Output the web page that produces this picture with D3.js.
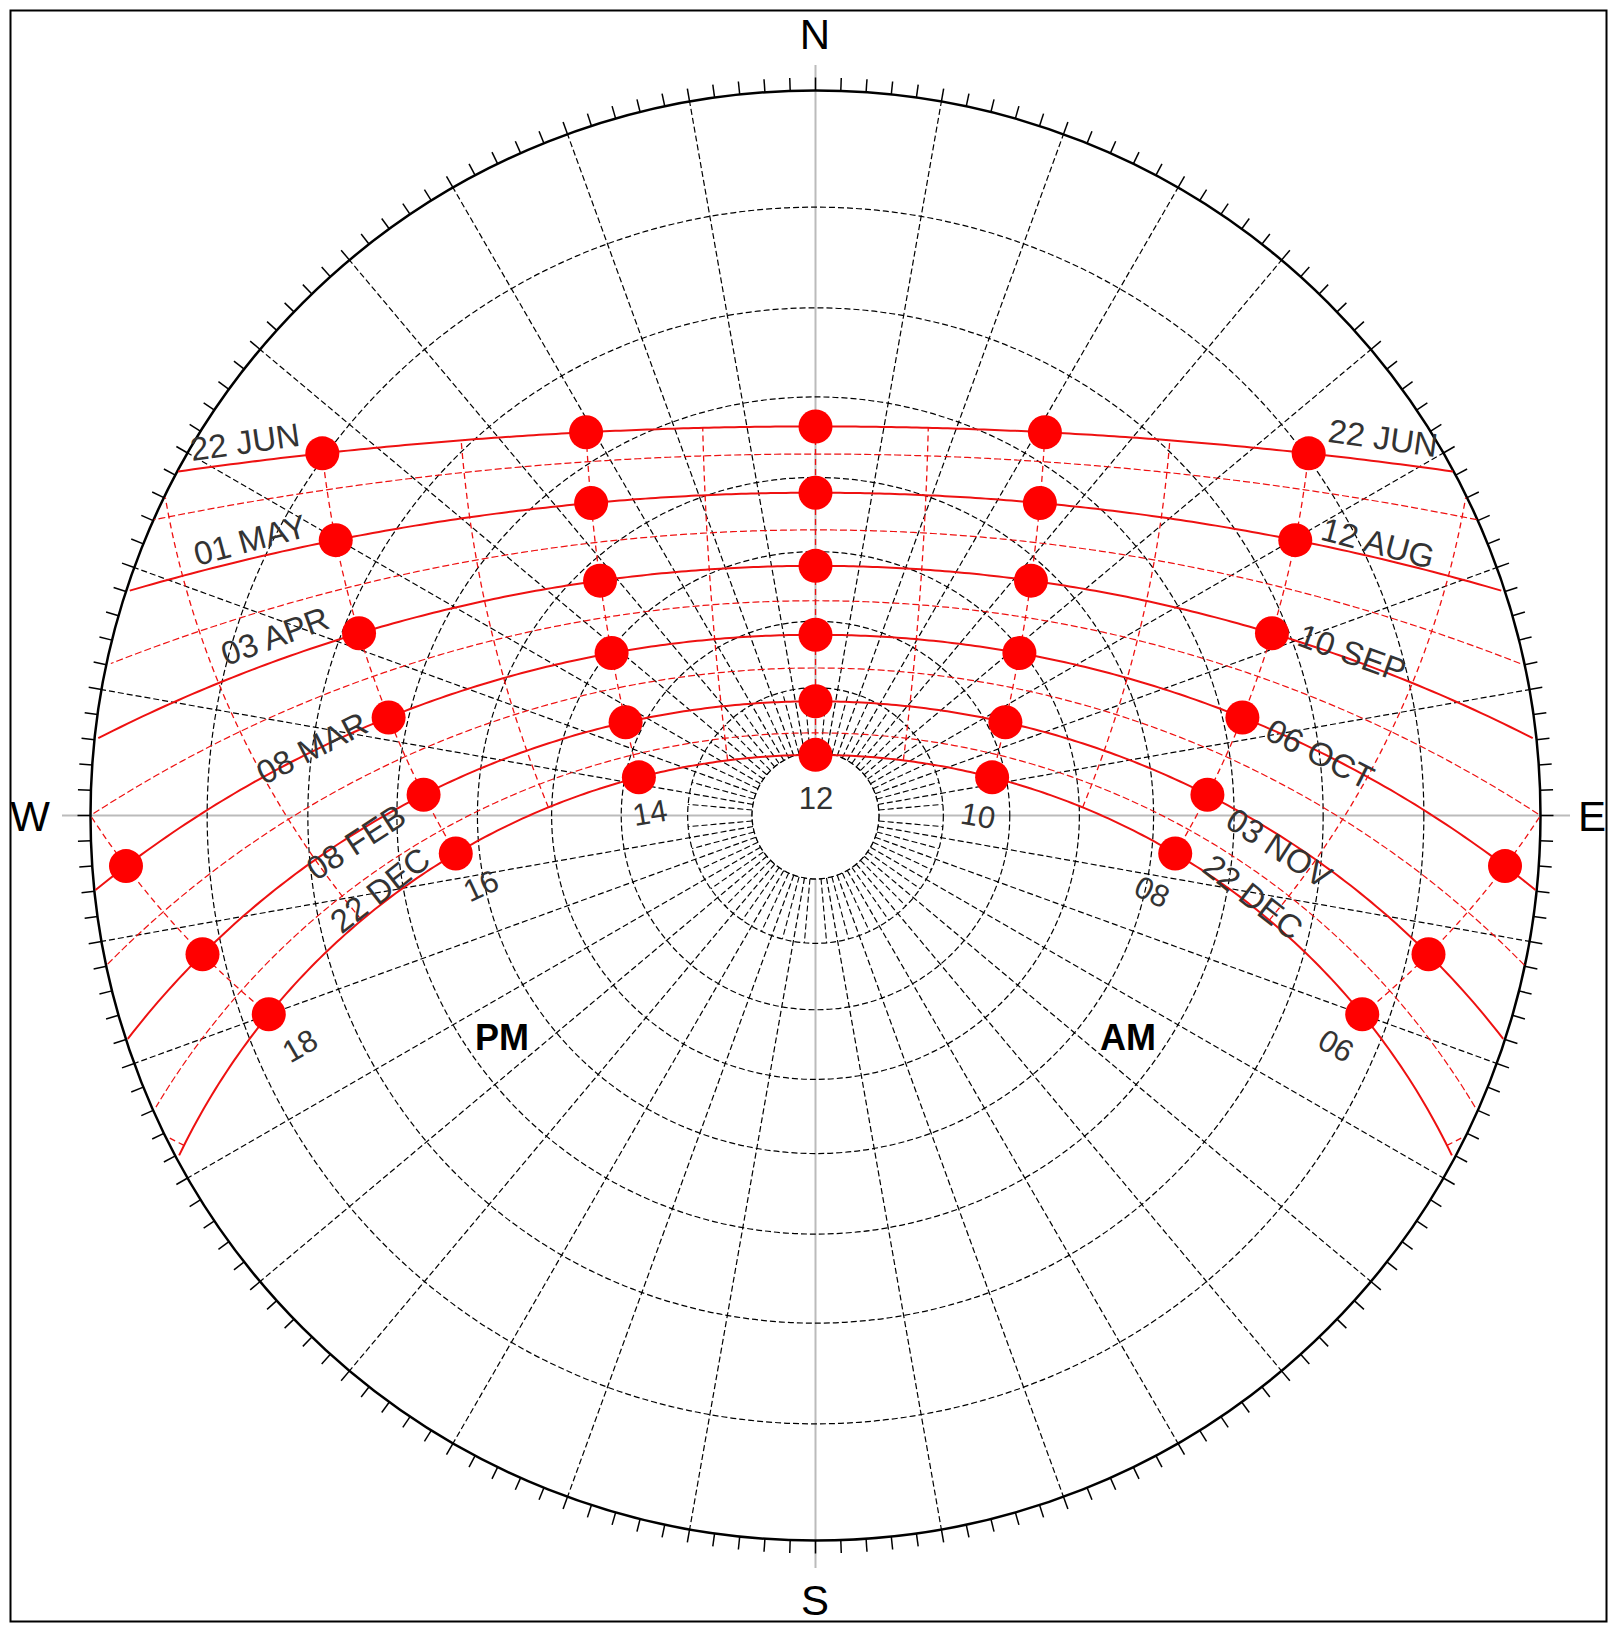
<!DOCTYPE html>
<html><head><meta charset="utf-8">
<script src="https://cdn.jsdelivr.net/npm/d3@7"></script>
<style>body{margin:0;background:#fff}</style></head>
<body><svg id="c" width="1615" height="1630"></svg>
<script>
const latitude = -33;
const mainDates = [
  {dec: 23.44, left: "22 JUN", right: "22 JUN"},
  {dec: 15.0, left: "01 MAY", right: "12 AUG"},
  {dec: 5.0, left: "03 APR", right: "10 SEP"},
  {dec: -5.0, left: "08 MAR", right: "06 OCT"},
  {dec: -15.1, left: "08 FEB", right: "03 NOV"},
  {dec: -23.44, left: "22 DEC", right: "22 DEC"}
];
const minorDecs = [20, 10, 0, -10, -20];
const hourLines = [5,6,7,8,9,10,11,12,13,14,15,16,17,18,19];
const dotHours = [6,8,10,12,14,16,18];
const altCircles = [10,20,30,40,50,60,70,80];
const hourLabels = ["06","08","10","12","14","16","18"];

const svg = d3.select("#c");
const cx = 815.5, cy = 815.5, R = 725;
const rad = Math.PI/180;
const rScale = d3.scaleLinear().domain([0, 1]).range([0, R]);
const rOfAlt = a => rScale(Math.tan((90 - a) / 2 * rad));

function sunXY(dec, hour) {
  const H = 15 * (hour - 12) * rad, d = dec * rad, p = latitude * rad;
  const xe = -Math.cos(d) * Math.sin(H);
  const yn = Math.sin(d) * Math.cos(p) - Math.cos(d) * Math.sin(p) * Math.cos(H);
  const z = Math.sin(p) * Math.sin(d) + Math.cos(p) * Math.cos(d) * Math.cos(H);
  return {x: cx + rScale(xe / (1 + z)), y: cy - rScale(yn / (1 + z)), alt: Math.asin(z) / rad};
}
function polar(az, r) { return [cx + r * Math.sin(az * rad), cy - r * Math.cos(az * rad)]; }

svg.append("rect").attr("x", 10.5).attr("y", 10.5).attr("width", 1596).attr("height", 1611)
  .attr("fill", "none").attr("stroke", "#000").attr("stroke-width", 2);

svg.append("line").attr("x1", cx).attr("x2", cx).attr("y1", 65).attr("y2", 1568).attr("stroke", "#bbb").attr("stroke-width", 2);
svg.append("line").attr("y1", cy).attr("y2", cy).attr("x1", 62).attr("x2", 1570).attr("stroke", "#bbb").attr("stroke-width", 2);

const g = svg.append("g");
altCircles.forEach(a => g.append("circle").attr("cx", cx).attr("cy", cy).attr("r", rOfAlt(a))
  .attr("fill", "none").attr("stroke", "#000").attr("stroke-width", 1.2).attr("stroke-dasharray", "6,3"));
for (let az = 10; az < 360; az += 10) {
  if (az % 90 === 0) continue;
  const a = polar(az, rOfAlt(80)), b = polar(az, R);
  g.append("line").attr("x1", a[0]).attr("y1", a[1]).attr("x2", b[0]).attr("y2", b[1])
    .attr("stroke", "#000").attr("stroke-width", 1.2).attr("stroke-dasharray", "6,3");
}
for (let az = 5; az < 360; az += 10) {
  const a = polar(az, rOfAlt(80)), b = polar(az, rOfAlt(70));
  g.append("line").attr("x1", a[0]).attr("y1", a[1]).attr("x2", b[0]).attr("y2", b[1])
    .attr("stroke", "#000").attr("stroke-width", 1.1).attr("stroke-dasharray", "6,3");
}
g.append("circle").attr("cx", cx).attr("cy", cy).attr("r", R).attr("fill", "none").attr("stroke", "#000").attr("stroke-width", 2.5);
for (let az = 0; az < 360; az += 2) {
  const a = polar(az, R), b = polar(az, R + 13);
  g.append("line").attr("x1", a[0]).attr("y1", a[1]).attr("x2", b[0]).attr("y2", b[1]).attr("stroke", "#000").attr("stroke-width", 1.5);
}
g.append("circle").attr("cx", cx).attr("cy", cy).attr("r", rOfAlt(80)).attr("fill", "#fff").attr("stroke", "#000").attr("stroke-width", 1.2).attr("stroke-dasharray", "6,3");

const line = d3.line().x(p => p.x).y(p => p.y);
function pathPts(f, lo, hi, n) {
  const pts = [];
  for (let i = 0; i <= n; i++) { const p = f(lo + (hi - lo) * i / n); if (p.alt >= 0) pts.push(p); }
  return pts;
}
const red = "#ee1111";
minorDecs.forEach(d => g.append("path").attr("d", line(pathPts(h => sunXY(d, h), 3, 21, 400)))
  .attr("fill", "none").attr("stroke", red).attr("stroke-width", 1.2).attr("stroke-dasharray", "7,3"));
mainDates.forEach(m => g.append("path").attr("d", line(pathPts(h => sunXY(m.dec, h), 3, 21, 400)))
  .attr("fill", "none").attr("stroke", red).attr("stroke-width", 2));
hourLines.forEach(h => g.append("path").attr("d", line(pathPts(d => sunXY(d, h), -23.44, 23.44, 100)))
  .attr("fill", "none").attr("stroke", red).attr("stroke-width", 1.3).attr("stroke-dasharray", "6,4"));
mainDates.forEach(m => dotHours.forEach(h => {
  const p = sunXY(m.dec, h);
  if (p.alt > 0) g.append("circle").attr("cx", p.x).attr("cy", p.y).attr("r", 17).attr("fill", "#ff0000");
}));

const font = "Liberation Sans, Arial, sans-serif";
function txt(s, x, y, size, rot, opt = {}) {
  svg.append("text").attr("transform", `translate(${x},${y}) rotate(${rot})`).attr("text-anchor", "middle")
    .attr("dominant-baseline", "central").attr("font-family", font).attr("font-size", size)
    .attr("font-weight", opt.bold ? "bold" : "normal").attr("fill", opt.fill || "#333").text(s);
}
txt("N", 815, 34, 42, 0, {fill: "#000"});
txt("S", 815, 1600, 42, 0, {fill: "#000"});
txt("W", 30, 816, 42, 0, {fill: "#000"});
txt("E", 1592, 816, 42, 0, {fill: "#000"});
const leftPos = [[245, 442, -8], [250, 540, -15], [275, 636, -20], [312, 748, -27], [356, 842, -33], [380, 890, -38]];
const rightPos = [[1383, 438, 8], [1378, 543, 15], [1352, 653, 20], [1320, 754, 27], [1279, 848, 33], [1253, 897, 38]];
mainDates.forEach((m, i) => {
  txt(m.left, leftPos[i][0], leftPos[i][1], 33, leftPos[i][2]);
  txt(m.right, rightPos[i][0], rightPos[i][1], 33, rightPos[i][2]);
});
const hourPos = [[1336, 1046, 30], [1152, 892, 25], [978, 816, 10], [816, 798, 0], [650, 813, -10], [481, 886, -25], [300, 1046, -30]];
hourLabels.forEach((s, i) => txt(s, hourPos[i][0], hourPos[i][1], 31, hourPos[i][2]));
txt("PM", 502, 1037, 36, 0, {bold: true, fill: "#000"});
txt("AM", 1128, 1037, 36, 0, {bold: true, fill: "#000"});
</script></body></html>
